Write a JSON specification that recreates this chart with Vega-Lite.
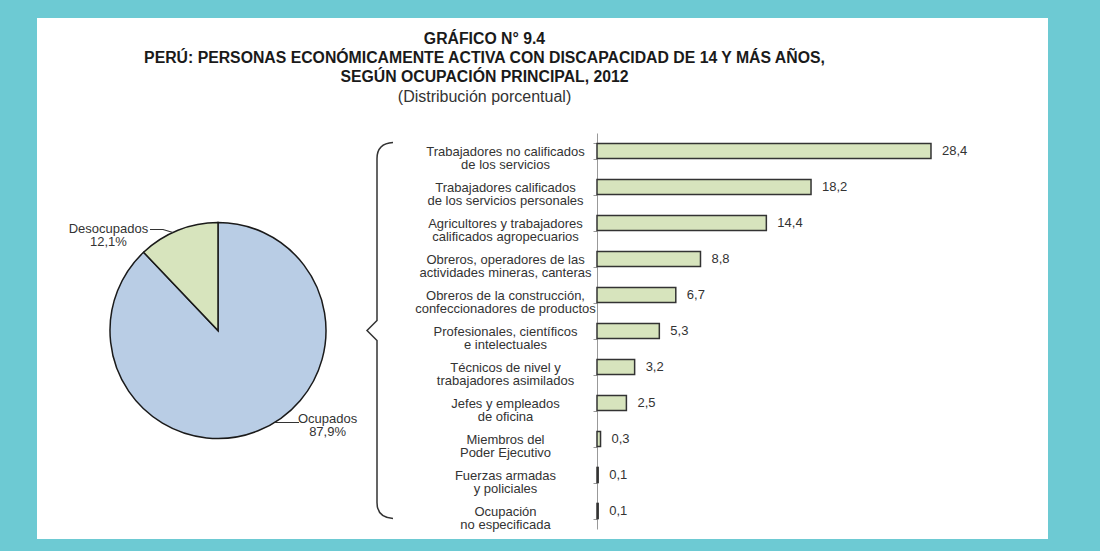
{
  "$schema": "https://vega.github.io/schema/vega-lite/v6.json",
  "background": "#6DCAD3",
  "padding": {"left": 37, "top": 18, "right": 52, "bottom": 12},
  "config": {
    "view": {"fill": "white", "stroke": null},
    "font": "Liberation Sans",
    "concat": {"spacing": 0},
    "locale": {"number": {"decimal": ",", "thousands": ".", "grouping": [3], "currency": ["", ""]}}
  },
  "title": {
    "text": ["GRÁFICO N° 9.4", "PERÚ: PERSONAS ECONÓMICAMENTE ACTIVA CON DISCAPACIDAD DE 14 Y MÁS AÑOS,", "SEGÚN OCUPACIÓN PRINCIPAL, 2012"],
    "subtitle": "(Distribución porcentual)",
    "anchor": "middle",
    "frame": "bounds",
    "dx": -58,
    "offset": -88,
    "zindex": 1,
    "font": "Liberation Sans",
    "fontSize": 15.8,
    "fontWeight": "bold",
    "color": "#1a1a1a",
    "lineHeight": 19,
    "subtitleFont": "Liberation Sans",
    "subtitleFontSize": 16,
    "subtitleColor": "#333333",
    "subtitlePadding": 3
  },
  "bounds": "flush",
  "spacing": 0,
  "columns": 3,
  "concat": [
    {"width": 362, "height": 104, "data": {"values": [{"v": 0}]}, "mark": {"type": "rect", "fill": "white"}},
    {"width": 198, "height": 104, "data": {"values": [{"v": 0}]}, "mark": {"type": "rect", "fill": "white"}},
    {"width": 451, "height": 104, "data": {"values": [{"v": 0}]}, "mark": {"type": "rect", "fill": "white"}},
    {
      "width": 362,
      "height": 417,
      "data": {"values": [
        {"estado": "Ocupados", "pct": 0.879, "orden": 1},
        {"estado": "Desocupados", "pct": 0.121, "orden": 2}
      ]},
      "resolve": {"scale": {"theta": "independent"}},
      "layer": [
        {"mark": {"type": "rect", "fill": "white"}},
        {
          "mark": {"type": "arc", "outerRadius": 108, "stroke": "#1a1a1a", "strokeWidth": 1.5},
          "encoding": {
            "theta": {"field": "pct", "type": "quantitative", "stack": true},
            "order": {"field": "orden", "type": "quantitative"},
            "color": {"field": "estado", "type": "nominal", "scale": {"domain": ["Ocupados", "Desocupados"], "range": ["#B9CDE5", "#D7E4BD"]}, "legend": null}
          }
        },
        {
          "mark": {"type": "text", "radius": 145, "dy": -6.5, "fontSize": 13, "color": "#333333"},
          "encoding": {
            "theta": {"field": "pct", "type": "quantitative", "stack": true, "scale": {"range": [-0.4765, 5.8067]}},
            "order": {"field": "orden", "type": "quantitative"},
            "text": {"field": "estado", "type": "nominal"}
          }
        },
        {
          "mark": {"type": "text", "radius": 145, "dy": 6.5, "fontSize": 13, "color": "#333333"},
          "encoding": {
            "theta": {"field": "pct", "type": "quantitative", "stack": true, "scale": {"range": [-0.4765, 5.8067]}},
            "order": {"field": "orden", "type": "quantitative"},
            "text": {"field": "pct", "type": "quantitative", "format": ".1%"}
          }
        },
        {
          "data": {"values": [{"elemento": "guias"}]},
          "mark": {"type": "point", "shape": "M-68,-101 L-55,-101 L-45,-98 M57,92 L81,92", "size": 4, "filled": false, "stroke": "#333333", "strokeWidth": 1.2, "opacity": 1}
        },
        {
          "data": {"values": [{"elemento": "llave"}]},
          "mark": {"type": "point", "shape": "M175,-188 Q159,-187 159,-172 L159,-10 L149,0 L159,10 L159,172 Q159,187 175,188", "size": 4, "filled": false, "stroke": "#333333", "strokeWidth": 1.5, "opacity": 1}
        }
      ]
    },
    {"width": 198, "height": 417, "data": {"values": [{"v": 0}]}, "mark": {"type": "rect", "fill": "white"}},
    {
      "width": 451,
      "height": 417,
      "data": {"values": [
        {"ocupacion": "Trabajadores no calificados\nde los servicios", "pct": 28.4},
        {"ocupacion": "Trabajadores calificados\nde los servicios personales", "pct": 18.2},
        {"ocupacion": "Agricultores y trabajadores\ncalificados agropecuarios", "pct": 14.4},
        {"ocupacion": "Obreros, operadores de las\nactividades mineras, canteras", "pct": 8.8},
        {"ocupacion": "Obreros de la construcción,\nconfeccionadores de productos", "pct": 6.7},
        {"ocupacion": "Profesionales, científicos\ne intelectuales", "pct": 5.3},
        {"ocupacion": "Técnicos de nivel y\ntrabajadores asimilados", "pct": 3.2},
        {"ocupacion": "Jefes y empleados\nde oficina", "pct": 2.5},
        {"ocupacion": "Miembros del\nPoder Ejecutivo", "pct": 0.3},
        {"ocupacion": "Fuerzas armadas\ny policiales", "pct": 0.1},
        {"ocupacion": "Ocupación\nno especificada", "pct": 0.1}
      ]},
      "encoding": {
        "y": {
          "field": "ocupacion",
          "type": "nominal",
          "sort": null,
          "scale": {"paddingInner": 0.58, "paddingOuter": 0.29, "range": [11, 407]},
          "axis": {
            "title": null,
            "domainColor": "#999999",
            "tickColor": "#999999",
            "tickSize": 4,
            "tickBand": "extent",
            "labelAlign": "center",
            "labelPadding": 88,
            "labelFontSize": 13,
            "labelLineHeight": 13,
            "labelColor": "#333333",
            "labelLimit": 400,
            "labelOverlap": false,
            "labelExpr": "split(datum.label, '\\n')"
          }
        },
        "x": {"field": "pct", "type": "quantitative", "scale": {"domain": [0, 38.35]}, "axis": null}
      },
      "layer": [
        {"mark": {"type": "bar", "fill": "#D7E4BD", "stroke": "#333333", "strokeWidth": 1.5}},
        {
          "mark": {"type": "text", "align": "left", "dx": 11, "fontSize": 13, "color": "#333333"},
          "encoding": {"text": {"field": "pct", "type": "quantitative", "format": ".1f"}}
        }
      ]
    }
  ]
}
